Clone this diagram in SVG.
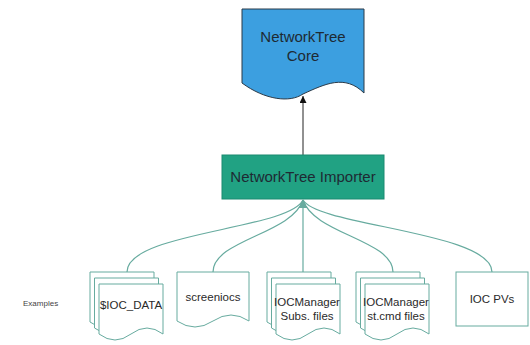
<svg xmlns="http://www.w3.org/2000/svg" width="530" height="345" viewBox="0 0 530 345">
<style>
.doc{fill:#ffffff;stroke:#67AB9F;stroke-width:1}
.conn{fill:none;stroke:#67AB9F;stroke-width:1.2}
.t{font-family:"Liberation Sans",Arial,sans-serif;font-size:11.5px;fill:#2a2a2a;text-anchor:middle}
.big{font-family:"Liberation Sans",Arial,sans-serif;font-size:15px;fill:#1e2a33;text-anchor:middle}
</style>
<defs>
<marker id="ah" viewBox="0 0 8 8" refX="8" refY="4" markerWidth="8" markerHeight="8" markerUnits="userSpaceOnUse" orient="-90"><path d="M0,0 L8,4 L0,8 z" fill="#67AB9F"/></marker>
<marker id="ak" viewBox="0 0 8 8" refX="8" refY="4" markerWidth="7" markerHeight="7" markerUnits="userSpaceOnUse" orient="auto"><path d="M0,0 L8,4 L0,8 z" fill="#111"/></marker>
</defs>
<rect width="530" height="345" fill="#ffffff"/>
<g id="connectors">
<line x1="303" y1="155" x2="303" y2="96" stroke="#222" stroke-width="1" marker-end="url(#ak)"/>
<path class="conn" d="M127,272 C127,232 288,230 303,200" marker-end="url(#ah)"/>
<path class="conn" d="M213,272 C213,240 292,234 303,200" marker-end="url(#ah)"/>
<path class="conn" d="M303,272 V200" marker-end="url(#ah)"/>
<path class="conn" d="M393,272 C393,240 314,234 303,200" marker-end="url(#ah)"/>
<path class="conn" d="M492,272 C492,232 318,226 303,200" marker-end="url(#ah)"/>
</g>
<g id="core">
<path d="M242,9 H364 V93 C345,74 325,84 303,94 C290,103 265,100 242,83 Z" fill="#3c9fe0" stroke="#2b3a48" stroke-width="1"/>
<text class="big" x="303" y="42">NetworkTree</text>
<text class="big" x="303" y="61">Core</text>
</g>
<g id="importer">
<rect x="222" y="155" width="162" height="44" fill="#21a283" stroke="#1a8a70" stroke-width="1"/>
<text class="big" x="303" y="182">NetworkTree Importer</text>
</g>
<g id="examples">
<text x="23" y="306" font-family="'Liberation Sans',Arial,sans-serif" font-size="8px" fill="#444">Examples</text>
</g>
<g id="ioc-data">
<path class="doc" d="M90,272 H154 V322 Q138,310 122,322 Q106,334 90,322 Z"/>
<path class="doc" d="M94.5,278 H158.5 V328 Q142.5,316 126.5,328 Q110.5,340 94.5,328 Z"/>
<path class="doc" d="M99,284 H163 V334 Q147,322 131,334 Q115,346 99,334 Z"/>
<text class="t" x="131" y="309">$IOC_DATA</text>
</g>
<g id="screeniocs">
<path class="doc" d="M177,272 H249 V321 Q231,309 213,321 Q195,333 177,321 Z"/>
<text class="t" x="213" y="301">screeniocs</text>
</g>
<g id="subs-files">
<path class="doc" d="M267,272 H331 V322 Q315,310 299,322 Q283,334 267,322 Z"/>
<path class="doc" d="M271.5,278 H335.5 V328 Q319.5,316 303.5,328 Q287.5,340 271.5,328 Z"/>
<path class="doc" d="M276,284 H340 V334 Q324,322 308,334 Q292,346 276,334 Z"/>
<text class="t" x="307" y="306">IOCManager</text>
<text class="t" x="307" y="320">Subs. files</text>
</g>
<g id="stcmd-files">
<path class="doc" d="M356,272 H420 V322 Q404,310 388,322 Q372,334 356,322 Z"/>
<path class="doc" d="M360.5,278 H424.5 V328 Q408.5,316 392.5,328 Q376.5,340 360.5,328 Z"/>
<path class="doc" d="M365,284 H429 V334 Q413,322 397,334 Q381,346 365,334 Z"/>
<text class="t" x="396" y="306">IOCManager</text>
<text class="t" x="396" y="320">st.cmd files</text>
</g>
<g id="ioc-pvs">
<rect class="doc" x="456" y="272" width="72" height="54"/>
<text class="t" x="492" y="303">IOC PVs</text>
</g>
</svg>
